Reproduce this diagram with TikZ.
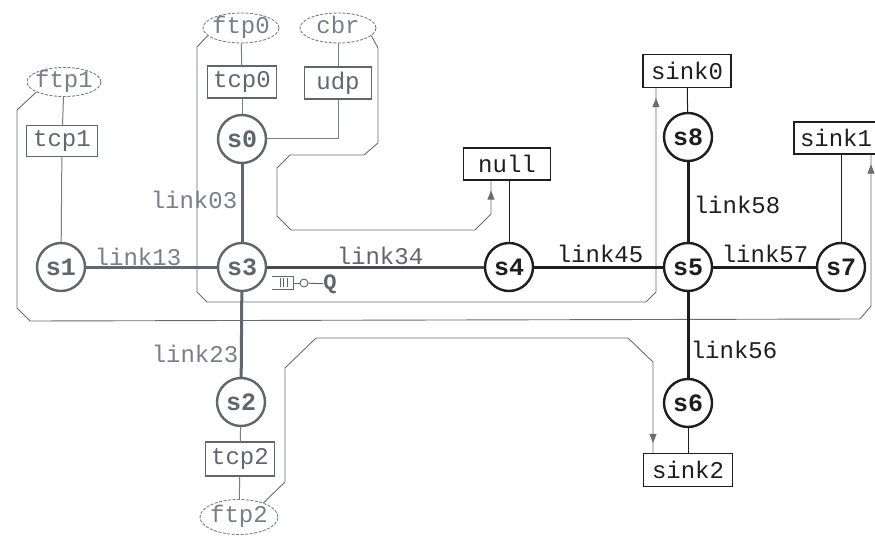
\documentclass[tikz,border=0pt]{standalone}
\usepackage{fontspec}
\newfontfamily\cour{Liberation Mono}
\usetikzlibrary{shapes.geometric,arrows.meta,decorations.markings}
\definecolor{lft}{RGB}{95,102,110}
\definecolor{lftt}{RGB}{120,127,135}
\definecolor{midc}{RGB}{70,74,78}
\definecolor{rgt}{RGB}{30,30,30}
\definecolor{flw}{RGB}{105,108,112}
\begin{document}
\begin{tikzpicture}[x=1pt,y=-1pt,
  sw/.style={circle,draw,line width=2.4pt,minimum size=48pt,inner sep=0pt,font=\cour\bfseries\fontsize{25}{25}\selectfont},
  agent/.style={draw,rectangle,line width=1.1pt,minimum height=32pt,inner sep=0pt,font=\cour\fontsize{24}{24}\selectfont},
  app/.style={draw,ellipse,dash pattern=on 3pt off 1.5pt,line width=0.9pt,inner sep=0pt,text height=11pt,text depth=0pt,font=\cour\fontsize{24}{24}\selectfont},
  lnk/.style={line width=3pt},
  att/.style={line width=1pt},
  lbl/.style={font=\cour\fontsize{24}{24}\selectfont,inner sep=0pt},
  flow/.style={line width=0.9pt,flw,postaction={decorate},
    decoration={markings,mark=at position -10pt with {\arrow{Triangle[length=9pt,width=7pt]}}}},
]
\useasboundingbox (0,0) rectangle (875,540);
\fill[white] (0,0) rectangle (875,540);

% application / agent nodes (left)
\node[app,lftt,minimum width=74pt,minimum height=29pt] (ftp1) at (64,82) {\makebox[10pt]{ftp1}};
\node[agent,lft,minimum width=71pt,minimum height=31pt] (tcp1) at (62,141) {tcp1};
\node[sw,lft] (s1) at (61,267) {s1};
\node[app,lftt,minimum width=76pt,minimum height=30pt] (ftp0) at (241,28) {\makebox[10pt]{ftp0}};
\node[app,lftt,minimum width=76pt,minimum height=30pt] (cbr) at (338,28) {\makebox[10pt]{cbr}};
\node[agent,lft,minimum width=69pt] (tcp0) at (242,82) {tcp0};
\node[agent,lft,minimum width=67pt] (udp) at (338,83) {udp};
\node[sw,lft] (s0) at (242,139) {s0};
\node[sw,lft] (s3) at (242,267) {s3};
\node[sw,lft] (s2) at (241,402) {s2};
\node[agent,lft,minimum width=69pt,minimum height=34pt] (tcp2) at (240,459) {tcp2};
\node[app,lftt,minimum width=78pt,minimum height=35pt] (ftp2) at (239,517) {\makebox[10pt]{ftp2}};

% right side
\node[sw,rgt] (s4) at (509,267) {s4};
\node[sw,rgt] (s5) at (688,267) {s5};
\node[sw,rgt] (s7) at (841,267) {s7};
\node[sw,rgt] (s8) at (688,137) {s8};
\node[sw,rgt] (s6) at (688,403) {s6};
\node[agent,rgt,minimum width=87pt] (nullag) at (507,164) {null};
\node[agent,rgt,minimum width=88pt,minimum height=33pt] (sink0) at (687,71) {sink0};
\node[agent,rgt,minimum width=84pt] (sink1) at (836,138) {sink1};
\node[agent,rgt,minimum width=89pt,minimum height=33pt] (sink2) at (688,470) {sink2};

% flow paths
\draw[flow] (ftp0.193) -- (197,47) -- (197,292) -- (207,302) -- (646,302) -- (656,292) -- (656,0 |- sink0.south);
\draw[flow] (cbr.-13) -- (378,48) -- (378,143) -- (364,155) -- (290,155) -- (277,168) -- (277,216) -- (291,230) -- (475,230) -- (491,214) -- (491,0 |- nullag.south);
\draw[flow] (ftp1.200) -- (17,110) -- (17,308) -- (30,321) -- (860,319) -- (871,306) -- (871,0 |- sink1.south);
\draw[flow] (ftp2.30) -- (285,482) -- (285,368) -- (316,338) -- (628,338) -- (653,362) -- (653,0 |- sink2.north);

% links
\draw[lnk,lft] (s0) -- (s3);
\draw[lnk,lft] (s1) -- (s3);
\draw[lnk,lft] (s3) -- (s2);
\draw[lnk,midc] (s3) -- (s4);
\draw[lnk,rgt] (s4) -- (s5);
\draw[lnk,rgt] (s5) -- (s7);
\draw[lnk,rgt] (s5) -- (s8);
\draw[lnk,rgt] (s5) -- (s6);

% attachments
\draw[att,lftt] (ftp1) -- (tcp1);
\draw[att,lftt] (tcp1) -- (s1);
\draw[att,lftt] (ftp0) -- (tcp0);
\draw[att,lftt] (tcp0) -- (s0);
\draw[att,lftt] (cbr) -- (udp);
\draw[att,lftt] (udp.south) |- (s0.east);
\draw[att,lftt] (s2) -- (tcp2);
\draw[att,lftt] (tcp2) -- (ftp2);
\draw[att,rgt] (s4) -- (s4 |- nullag.south);
\draw[att,rgt] (s8) -- (sink0);
\draw[att,rgt] (s7) -- (s7 |- sink1.south);
\draw[att,rgt] (s6) -- (sink2);

% link labels
\node[lbl,lftt] (l03) at (194,200) {link03};
\node[lbl,lftt] (l13) at (138,257) {link13};
\node[lbl,lft] (l34) at (380,256) {link34};
\node[lbl,lftt] (l23) at (195,354) {link23};
\node[lbl,rgt] (l45) at (600,254) {link45};
\node[lbl,rgt] (l57) at (765,254) {link57};
\node[lbl,rgt] (l58) at (737,205) {link58};
\node[lbl,rgt] (l56) at (734,350) {link56};

% queue monitor
\draw[att,lft] (272,276) -- (293,276) -- (293,289) -- (272,289);
\draw[line width=0.8pt,lft] (280,278) -- (280,287) (283.5,278) -- (283.5,287) (287,278) -- (287,287);
\node[circle,draw,lft,line width=0.9pt,minimum size=8pt,inner sep=0pt] (qc) at (304,283) {};
\node[lft,font=\cour\bfseries\fontsize{22}{22}\selectfont,inner sep=0pt] (q) at (330,284) {Q};
\draw[att,lft] (293,283) -- (qc);
\draw[att,lft] (qc) -- (q);
\end{tikzpicture}
\end{document}
